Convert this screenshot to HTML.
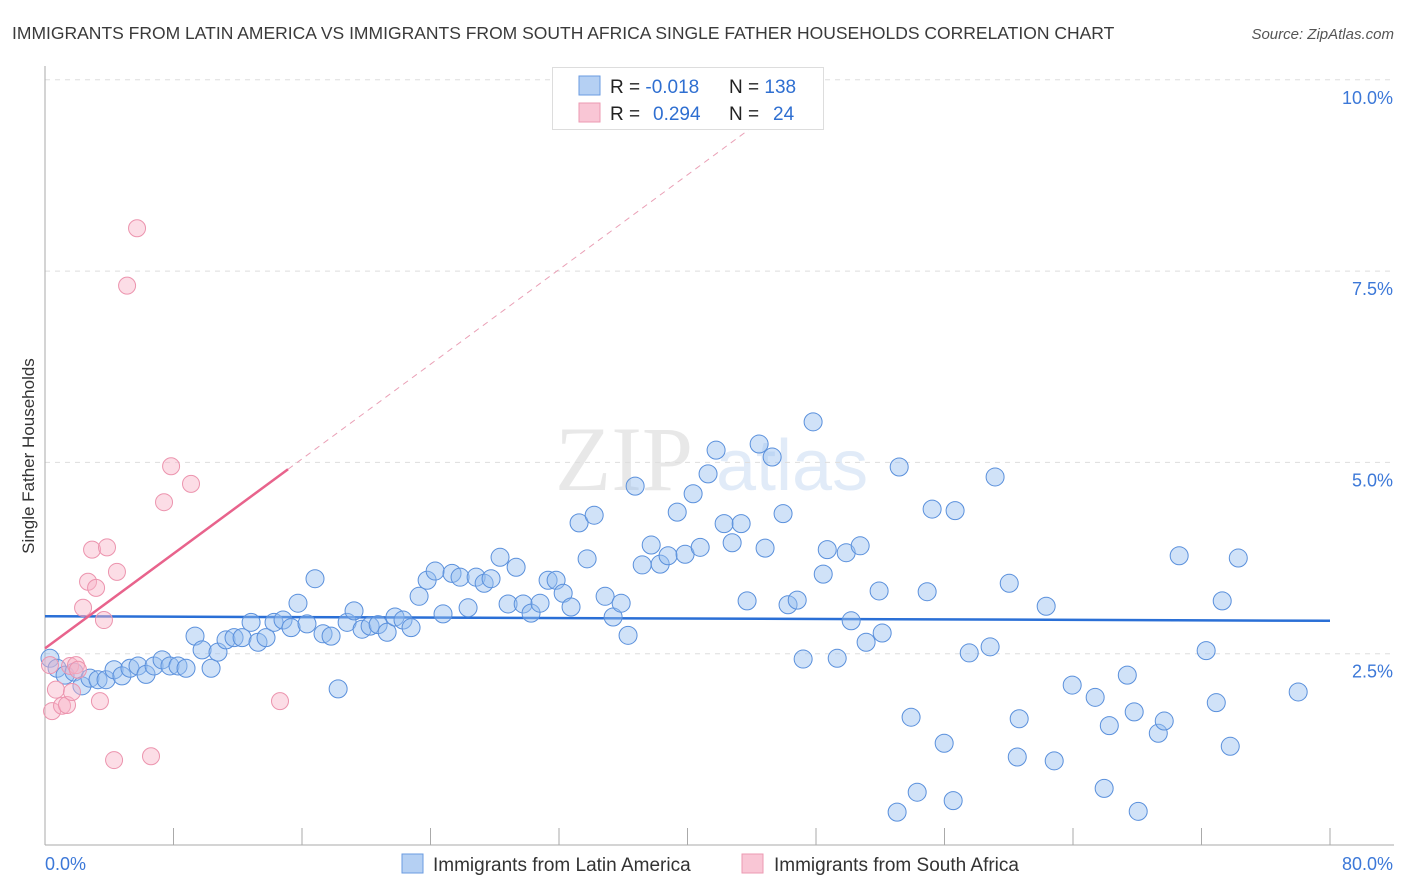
<!DOCTYPE html>
<html><head><meta charset="utf-8"><style>
body{margin:0;background:#fff;font-family:"Liberation Sans",sans-serif;}
svg{display:block}
</style></head><body>
<svg id="chart" width="1406" height="892">
<text x="12" y="39" font-size="17.5" fill="#3a3a3a">IMMIGRANTS FROM LATIN AMERICA VS IMMIGRANTS FROM SOUTH AFRICA SINGLE FATHER HOUSEHOLDS CORRELATION CHART</text>
<text x="1394" y="39" font-size="15" fill="#555" text-anchor="end" font-style="italic">Source: ZipAtlas.com</text>
<g opacity="0.22">
<text x="555" y="490" font-size="92" font-family="Liberation Serif,serif" fill="#999">ZIP</text>
<text x="716" y="490" font-size="72" fill="#7aa7e0">atlas</text>
</g>
<g id="grid"></g><g id="axes"></g><g id="lines"></g><g id="pts"></g>
<g>
<rect x="552.5" y="67.5" width="271" height="62" fill="#fff" stroke="#ddd"/>
<rect x="579" y="76" width="21" height="19" fill="#b5d0f3" stroke="#6a9be0"/>
<rect x="579" y="103" width="21" height="19" fill="#f9c6d5" stroke="#ec9ab2"/>
<text x="610" y="93" font-size="19" fill="#222">R = <tspan fill="#2f6fd1">-0.018</tspan></text>
<text x="729" y="93" font-size="19" fill="#222">N = <tspan fill="#2f6fd1">138</tspan></text>
<text x="610" y="120" font-size="19" fill="#222">R = <tspan fill="#2f6fd1" x="653">0.294</tspan></text>
<text x="729" y="120" font-size="19" fill="#222">N = <tspan fill="#2f6fd1" x="773">24</tspan></text>
</g>
<text transform="translate(34,456) rotate(-90)" font-size="17" fill="#333" text-anchor="middle">Single Father Households</text>
<g>
<rect x="402" y="854" width="21" height="19" fill="#b5d0f3" stroke="#6a9be0"/>
<text x="433" y="871" font-size="19" fill="#333">Immigrants from Latin America</text>
<rect x="742" y="854" width="21" height="19" fill="#f9c6d5" stroke="#ec9ab2"/>
<text x="774" y="871" font-size="19" fill="#333">Immigrants from South Africa</text>
</g>
</svg>
<script>
const blueX=[0.31,0.75,1.25,1.81,2.30,2.80,3.30,3.80,4.30,4.79,5.29,5.79,6.29,6.79,7.29,7.78,8.28,8.78,9.34,9.78,10.34,10.77,11.27,11.77,12.27,12.83,13.26,13.76,14.26,14.82,15.32,15.75,16.31,16.81,17.31,17.81,18.25,18.81,19.24,19.74,20.24,20.74,21.30,21.79,22.29,22.79,23.29,23.79,24.29,24.78,25.34,25.84,26.34,26.84,27.34,27.77,28.33,28.83,29.33,29.77,30.26,30.82,31.32,31.82,32.26,32.75,33.25,33.75,34.19,34.87,35.37,35.87,36.30,36.74,37.18,37.74,38.30,38.79,39.36,39.85,40.35,40.79,41.28,41.78,42.28,42.78,43.34,43.71,44.46,44.83,45.27,45.95,46.26,46.83,47.20,47.82,48.45,48.70,49.32,49.88,50.19,50.75,51.12,51.93,52.12,53.05,53.18,53.92,54.30,54.92,55.23,55.98,56.54,56.66,57.54,58.84,59.15,60.03,60.53,60.65,62.33,62.83,63.95,65.38,65.94,66.26,67.38,67.81,68.06,69.31,69.68,70.61,72.29,72.92,73.29,73.79,74.29,78.02];
const blueY=[2.44,2.31,2.22,2.26,2.08,2.18,2.16,2.16,2.29,2.21,2.31,2.34,2.23,2.34,2.42,2.34,2.34,2.31,2.73,2.55,2.31,2.52,2.68,2.71,2.71,2.91,2.65,2.71,2.91,2.94,2.84,3.16,2.89,3.48,2.76,2.73,2.04,2.91,3.06,2.82,2.86,2.88,2.78,2.98,2.94,2.84,3.25,3.46,3.58,3.02,3.55,3.50,3.10,3.50,3.42,3.48,3.76,3.15,3.63,3.15,3.03,3.16,3.46,3.46,3.29,3.11,4.21,3.74,4.31,3.25,2.98,3.16,2.74,4.69,3.66,3.92,3.67,3.78,4.35,3.80,4.59,3.89,4.85,5.16,4.20,3.95,4.20,3.19,5.24,3.88,5.07,4.33,3.14,3.20,2.43,5.53,3.54,3.86,2.44,3.82,2.93,3.91,2.65,3.32,2.77,0.43,4.94,1.67,0.69,3.31,4.39,1.33,0.58,4.37,2.51,2.59,4.81,3.42,1.15,1.65,3.12,1.10,2.09,1.93,0.74,1.56,2.22,1.74,0.44,1.46,1.62,3.78,2.54,1.86,3.19,1.29,3.75,2.00];
const pinkX=[0.31,0.44,0.68,1.06,1.37,1.56,1.68,1.93,2.05,2.37,2.68,2.93,3.18,3.42,3.67,3.86,4.30,4.48,5.11,5.73,6.60,7.41,7.85,9.09,14.63];
const pinkY=[2.35,1.75,2.03,1.82,1.83,2.34,2.00,2.35,2.29,3.10,3.44,3.86,3.36,1.88,2.94,3.89,1.11,3.57,7.31,8.06,1.16,4.48,4.95,4.72,1.88];
const yTicks=[2.5,5.0,7.5,10.0];
const xTicks=[0,8,16,24,32,40,48,56,64,72,80];
const blueTrend=[2.99,2.93];
const pinkTrendSlope=0.1547, pinkTrendIntercept=2.57, pinkSolidEnd=15.13, pinkDashEnd=47.5;

const X=v=>45+v*16.0625, Y=v=>845-v*76.52;
const NS="http://www.w3.org/2000/svg";
function mk(tag,attrs,parent){const e=document.createElementNS(NS,tag);for(const k in attrs)e.setAttribute(k,attrs[k]);document.getElementById(parent).appendChild(e);return e;}
yTicks.forEach(t=>{
  const l=mk('line',{x1:45,x2:1394,y1:Y(t),y2:Y(t),stroke:'#ddd','stroke-dasharray':'5,5'},'grid');
  
  
  const tx=mk('text',{x:1393,y:Y(t)+24,'font-size':18,fill:'#3c78d8','text-anchor':'end'},'grid');
  tx.textContent=t.toFixed(1)+'%';
  
  
});
const ax=mk('line',{x1:45,x2:45,y1:66,y2:845,stroke:'#aaa'},'axes');


const bx=mk('line',{x1:45,x2:1394,y1:845,y2:845,stroke:'#aaa'},'axes');


xTicks.forEach(t=>{
  const l=mk('line',{x1:X(t),x2:X(t),y1:828,y2:845,stroke:'#aaa'},'axes');
  
  
});
[[0,'0.0%','start',45],[80,'80.0%','end',1393]].forEach(a=>{
  const tx=mk('text',{x:a[3],y:870,'font-size':18,fill:'#3c78d8','text-anchor':a[2]},'axes');
  tx.textContent=a[1];
  
  
});
const bt=mk('line',{x1:X(0),x2:X(80),y1:Y(blueTrend[0]),y2:Y(blueTrend[1]),stroke:'#2a6fd6','stroke-width':2.5},'lines');


const pf=x=>pinkTrendIntercept+pinkTrendSlope*x;
const pd=mk('line',{x1:X(pinkSolidEnd),x2:X(pinkDashEnd),y1:Y(pf(pinkSolidEnd)),y2:Y(pf(pinkDashEnd)),stroke:'#eaa0b6','stroke-width':1,'stroke-dasharray':'6,5'},'lines');


const ps=mk('line',{x1:X(0),x2:X(pinkSolidEnd),y1:Y(pf(0)),y2:Y(pf(pinkSolidEnd)),stroke:'#e8638c','stroke-width':2.5},'lines');


blueX.forEach((x,i)=>{
  const c=mk('circle',{cx:X(x),cy:Y(blueY[i]),r:9,fill:'rgba(150,190,240,0.45)',stroke:'#5a90dc','stroke-width':1},'pts');
  
  
});
pinkX.forEach((x,i)=>{
  const c=mk('circle',{cx:X(x),cy:Y(pinkY[i]),r:8.5,fill:'rgba(248,180,200,0.45)',stroke:'#ec94ae','stroke-width':1},'pts');
  
  
});
</script>
</body></html>
